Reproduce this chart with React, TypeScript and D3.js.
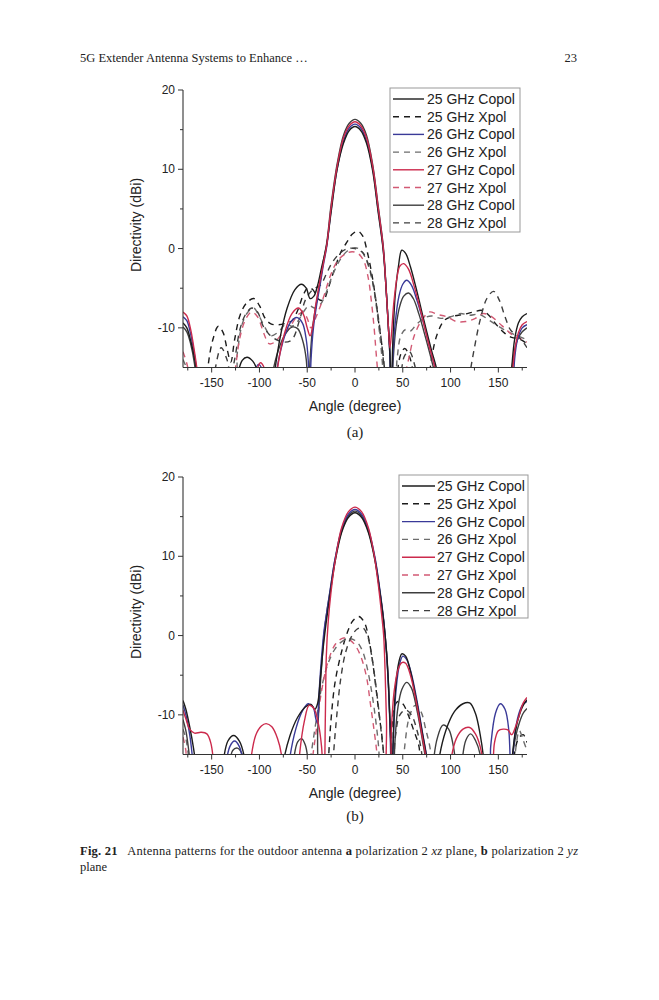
import React from 'react';
import * as d3 from 'd3';

type Pt = [number, number];

const seriesNames = ['25 GHz Copol', '25 GHz Xpol', '26 GHz Copol', '26 GHz Xpol', '27 GHz Copol', '27 GHz Xpol', '28 GHz Copol', '28 GHz Xpol'];
const xTickValues = [-150, -100, -50, 0, 50, 100, 150];
const xMinorValues = [-175, -125, -75, -25, 25, 75, 125, 175];
const yTickValues = [-10, 0, 10, 20];
const yMinorValues = [-5, 5, 15];

// ---------- panel (a): polarization 2, xz plane ----------
const aCopol25: Pt[] = [[-180,-9.4],[-176,-10],[-172,-11.6],[-168,-13.8],[-164,-17],[-160,-22],[-128,-22],[-123,-16],[-118,-14.1],[-113,-13.7],[-107,-14.2],[-102,-15.5],[-98,-19],[-88,-20],[-84,-15.5],[-78,-11],[-71,-7.5],[-63,-5.2],[-56,-4.5],[-51,-5],[-47,-6.3],[-43,-6],[-39,-4.6],[-35,-2.4],[-30,0.2],[-25,4.6],[-19,9.8],[-12,13.3],[-6,14.9],[0,15.4],[6,14.9],[12,13.3],[18.5,9.8],[24,4.8],[29.5,-0.2],[32.5,-5],[35,-10],[36.5,-13],[38,-18],[39.5,-12],[42,-6],[45.5,-2.2],[49,-0.2],[53,-0.6],[58,-2.3],[65,-5.5],[72,-9],[80,-12.8],[86,-15.5],[90,-20],[160,-20],[164,-15],[167,-11.5],[171,-9.4],[175,-8.6],[180,-8.2]];
const aXpol25: Pt[] = [[-180,-20],[-158,-20],[-154,-15],[-149,-11.6],[-143,-9.8],[-138,-10.6],[-134,-12.6],[-130,-14.3],[-126,-11.5],[-120,-8.3],[-113,-6.8],[-106,-6.3],[-100,-7.2],[-94,-8.8],[-88,-9.5],[-80,-9.6],[-72,-9.4],[-66,-9.1],[-60,-7.8],[-54,-5.8],[-49,-4.9],[-44,-5.2],[-38,-6.4],[-33,-6.5],[-28,-5],[-22,-2.8],[-15,-0.5],[-8,0.9],[-3,1.8],[3,2.2],[8,1.6],[13,-0.5],[17,-2.8],[21,-5.8],[25,-9.5],[29,-13],[32,-17],[34,-22],[40,-22],[44,-16],[48,-13.3],[52,-12.6],[57,-13.6],[62,-16.5],[68,-22],[74,-20],[80,-14],[86,-10.8],[94,-9],[104,-8.5],[114,-8.3],[124,-8],[133,-7.8],[140,-8.4],[148,-9.6],[156,-10.6],[164,-11.2],[172,-11.4],[180,-12]];
const aCopol26: Pt[] = [[-180,-8.6],[-176,-9.1],[-172,-10.8],[-168,-13.4],[-164,-17],[-160,-22],[-112,-22],[-106,-16],[-101,-14.6],[-96,-15.6],[-92,-20],[-86,-20],[-82,-15.5],[-76,-12],[-68,-9.4],[-61,-8.7],[-55,-9.4],[-51,-11.5],[-49,-14],[-47.5,-20],[-46,-14],[-43.5,-10],[-40,-7],[-36,-4.2],[-33,-2],[-29.5,0.3],[-25,4.9],[-18.5,10.2],[-12,13.6],[-6,15.2],[0,15.7],[6,15.2],[12,13.6],[18.5,10.1],[24,5.1],[29.5,0],[32.5,-5],[35,-10],[36.5,-13.5],[38,-20],[39.5,-14],[42,-9.5],[46,-6],[50,-4.5],[54,-4],[59,-4.6],[65,-6.6],[72,-9.5],[80,-13.3],[86,-16],[90,-20],[158,-22],[165,-18],[167,-14],[170,-11.5],[175,-10],[180,-9.6]];
const aXpol26: Pt[] = [[-180,-14],[-175,-15.5],[-170,-18],[-128,-18],[-123,-13],[-118,-9.5],[-112,-8],[-106,-7.5],[-100,-8.6],[-94,-10],[-88,-11],[-80,-10.5],[-72,-9.5],[-66,-9.8],[-60,-9.2],[-54,-8],[-48,-7.2],[-42,-7.5],[-36,-7],[-30,-5.5],[-24,-3.5],[-16,-1.5],[-8,-0.3],[0,0.1],[6,-0.2],[12,-1.5],[18,-4],[22,-7],[26,-11],[29,-15],[31,-20],[40,-20],[44,-14],[48,-11],[53,-10.2],[58,-10.4],[64,-9.6],[72,-8.8],[80,-8.5],[90,-8.8],[100,-8.6],[110,-8.2],[120,-8.4],[130,-8.3],[140,-9],[150,-9.8],[160,-10.5],[170,-11],[180,-11.5]];
const aCopol27: Pt[] = [[-180,-8],[-176,-8.5],[-172,-10.2],[-168,-13],[-164,-16.5],[-160,-22],[-110,-22],[-104,-16],[-99,-14.4],[-94,-15.4],[-90,-20],[-85,-20],[-81,-15],[-74,-10.8],[-66,-8.2],[-59,-7.5],[-54,-8.3],[-50,-10],[-47,-11],[-44.5,-10],[-41,-7],[-37,-4.3],[-33,-1.8],[-29.5,0.5],[-25,5.2],[-18.5,10.5],[-12,14],[-6,15.5],[0,16],[6,15.5],[12,14],[18.5,10.4],[24,5.4],[29.5,0.2],[32.5,-5],[35,-10],[36.5,-12.5],[38,-11],[40.5,-7],[44,-3.6],[47,-2.2],[51,-1.9],[56,-2.6],[62,-4.8],[69,-8],[77,-12],[84,-15.3],[88,-20],[160,-22],[164,-17],[167,-13],[171,-10.6],[175,-9.6],[180,-9.2]];
const aXpol27: Pt[] = [[-180,-13],[-176,-14.5],[-172,-17],[-168,-20],[-130,-20],[-125,-15],[-120,-11],[-114,-8.8],[-108,-8],[-102,-8.6],[-96,-10.5],[-90,-12],[-84,-11.8],[-78,-11],[-72,-10.5],[-66,-9.5],[-60,-8.4],[-54,-8],[-50,-8.8],[-46,-10],[-42,-9],[-37,-7.5],[-32,-5.8],[-26,-3.5],[-18,-1.5],[-9,-0.6],[-3,-0.4],[3,-0.6],[9,-1.5],[14,-3.8],[17,-6.5],[20,-10],[22,-13],[24,-16],[26,-20],[42,-20],[50,-17],[56,-14],[62,-11],[70,-9],[78,-8],[86,-8.3],[96,-8.6],[106,-9.2],[116,-9.2],[126,-8.8],[134,-8.2],[142,-8.5],[150,-9.3],[158,-10.2],[166,-11],[172,-11.3],[180,-11.8]];
const aCopol28: Pt[] = [[-180,-9.9],[-176,-10.5],[-172,-12],[-168,-14.5],[-165,-18],[-160,-22],[-92,-22],[-88,-17],[-82,-13.5],[-74,-11],[-66,-9.9],[-60,-10.1],[-55,-11.5],[-51,-14],[-49,-20],[-47,-14],[-44,-9.6],[-40,-6.6],[-36,-3.8],[-33,-1.5],[-29.5,0.8],[-25,5.5],[-18.5,10.8],[-12,14.3],[-6,15.8],[0,16.3],[6,15.8],[12,14.3],[18.5,10.6],[24,5.6],[29.5,0.4],[32.5,-4.8],[35,-10],[36.5,-13.5],[38,-20],[40,-14],[43,-9.8],[47,-7.2],[51,-6],[56,-5.6],[61,-6.3],[67,-8.3],[74,-11.3],[81,-14.5],[85,-16.5],[89,-20],[158,-22],[163,-17],[166,-13.5],[170,-11.5],[175,-10.5],[180,-10]];
const aXpol28: Pt[] = [[-180,-15.5],[-175,-18],[-150,-20],[-146,-15],[-140,-12.5],[-134,-14],[-130,-16],[-126,-14],[-120,-10],[-114,-8.2],[-108,-7.5],[-102,-8],[-96,-9.8],[-90,-10.8],[-82,-11.5],[-74,-11.8],[-66,-11.5],[-58,-9],[-52,-6.5],[-46,-5.4],[-42,-5],[-36,-4.6],[-30,-3.2],[-24,-1.8],[-16,-0.6],[-8,0],[0,0],[8,-0.5],[14,-2],[19,-4.5],[23,-7.5],[27,-11],[30,-14.5],[33,-20],[44,-20],[48,-16],[52,-13.5],[57,-13],[62,-14.5],[66,-17],[70,-20],[116,-20],[120,-16],[125,-12.5],[131,-9],[138,-6.3],[145,-5.4],[151,-6.5],[157,-8.6],[163,-10.3],[170,-11],[176,-11.8],[180,-12.5]];

// ---------- panel (b): polarization 2, yz plane ----------
const bCopol25: Pt[] = [[-180,-8.2],[-177,-9.3],[-173,-11.5],[-169,-14.2],[-166,-17],[-162,-22],[-142,-22],[-138,-16],[-133,-13.3],[-127,-12.6],[-121,-13.3],[-116,-15.2],[-112,-20],[-80,-22],[-75,-16],[-68,-12.6],[-60,-10.3],[-52,-9],[-46,-8.7],[-42,-9.3],[-39,-8.5],[-36,-5],[-33,-1.2],[-30,1.8],[-26,5.3],[-21,9.2],[-14,13],[-7,14.9],[0,15.5],[7,14.9],[14,13],[21,9.4],[26,5.5],[30,1.8],[33,-2],[35,-6],[36.5,-10.5],[37.5,-14],[38.5,-20],[40,-13],[42.5,-6.5],[46,-3.3],[49,-2.3],[53,-2.6],[58,-4.5],[64,-8],[70,-12],[75,-15.5],[78,-20],[84,-20],[88,-15.5],[95,-12],[104,-9.6],[113,-8.6],[120,-8.5],[126,-9.8],[131,-12.5],[135,-16],[138,-22],[160,-22],[164,-16],[168,-12],[172,-10],[176,-8.8],[180,-8.1]];
const bXpol25: Pt[] = [[-180,-20],[-30,-20],[-27.5,-15],[-25,-10.5],[-21,-6],[-15,-2.5],[-8,0.4],[-2,1.9],[4,2.4],[10,1.6],[15,-0.8],[19,-3.8],[22.5,-7.2],[25.5,-10.2],[28,-12.5],[30,-15],[32,-20],[36,-20],[38.5,-12],[41,-9],[45,-8.3],[50,-8.6],[55,-9.8],[61,-11.8],[67,-14],[72,-20],[160,-20],[166,-15.5],[171,-13],[176,-12.5],[180,-13.5]];
const bCopol26: Pt[] = [[-180,-8.8],[-177,-10],[-173,-12.5],[-170,-15.5],[-167,-20],[-140,-22],[-136,-17],[-131,-14],[-126,-13.3],[-121,-14],[-117,-16],[-113,-20],[-74,-22],[-69,-16],[-62,-11.8],[-55,-9.5],[-49,-8.6],[-44,-9],[-41,-10.5],[-39.5,-11],[-38,-8],[-35.5,-3.5],[-32.5,0.5],[-29.5,3],[-26,5.8],[-21,9.6],[-14,13.4],[-7,15.3],[0,15.9],[7,15.3],[14,13.4],[21,9.8],[26,5.8],[30,2],[33,-2.2],[35,-6.5],[36.5,-11],[37.5,-16],[38.5,-20],[40.5,-12],[43,-6.8],[46.5,-3.7],[50,-2.6],[54,-3],[59,-4.8],[65,-8.3],[71,-12.5],[76,-16],[79,-20],[138,-22],[142,-14],[147,-9.8],[152,-8.6],[157,-9.3],[161,-12],[163.5,-20],[166,-14],[170,-10.5],[175,-8.8],[180,-8.3]];
const bXpol26: Pt[] = [[-180,-11.8],[-177,-13],[-174,-15.5],[-171,-20],[-52,-20],[-46,-15],[-41,-11],[-36,-7.2],[-29,-3.8],[-21,-1.7],[-13,-0.7],[-5,-0.4],[2,-0.8],[8,-2],[13,-4.2],[18,-7.5],[22,-11],[25,-14.5],[27,-20],[48,-20],[52,-14],[57,-10.2],[63,-8.8],[69,-9.6],[74,-11.8],[79,-14.5],[83,-20],[164,-20],[168,-14.5],[172,-12],[176,-13.2],[180,-14.5]];
const bCopol27: Pt[] = [[-180,-9.4],[-177,-10.5],[-173,-11.8],[-168,-12.3],[-161,-12.2],[-155,-12.4],[-151,-13.5],[-148,-16],[-145,-22],[-114,-22],[-110,-16.5],[-104,-12.6],[-98,-11.4],[-93,-11.1],[-87,-11.5],[-81,-13],[-77,-15],[-73,-22],[-62,-22],[-58,-15],[-53,-10.8],[-48,-8.8],[-43,-9.2],[-38.5,-11],[-35,-14],[-32.5,-20],[-31,-10],[-30,-2.5],[-28,1.8],[-25,5.6],[-20,10],[-14,13.6],[-7,15.6],[0,16.2],[7,15.6],[14,13.6],[20,10.2],[25,5.8],[28,2.5],[30,0],[31.5,-4.5],[33,-11],[34,-20],[36,-20],[38,-12],[41,-7],[45,-4.3],[49,-3.4],[53,-3.5],[58,-5],[64,-8.3],[70,-12.5],[75,-16],[78,-20],[96,-22],[100,-16],[106,-13],[113,-11.8],[120,-11.6],[126,-12.4],[131,-14],[135,-17],[138,-22],[143,-20],[146,-13.5],[150,-12],[155,-11.8],[160,-11.9],[164,-12.5],[168,-11.5],[172,-10],[176,-8.5],[180,-7.8]];
const bXpol27: Pt[] = [[-180,-12.8],[-177,-14.5],[-174,-20],[-50,-20],[-44,-15],[-40,-11.5],[-35,-7],[-28,-3.2],[-20,-1],[-12,-0.3],[-6,-0.5],[0,-1.2],[6,-2.6],[12,-5.2],[16,-8.5],[20,-12],[23,-15],[25,-20]];
const bCopol28: Pt[] = [[-180,-10.6],[-177,-12],[-174,-14.5],[-171,-18],[-168,-22],[-136,-22],[-132,-17],[-128,-14.5],[-123,-14.2],[-118,-15],[-114,-18],[-110,-22],[-68,-22],[-64,-15.5],[-60,-13.4],[-56,-13],[-52,-13.8],[-49,-16],[-47,-22],[-42,-22],[-39,-12],[-37,-7.5],[-35,-4],[-32.5,0],[-29.5,3],[-26,5.6],[-21,9.5],[-14,13.2],[-7,15.1],[0,15.7],[7,15.1],[14,13.2],[21,9.6],[26,5.6],[30,1.8],[33,-2.2],[35,-6.2],[36.5,-10.5],[38,-15],[39.5,-20],[42,-13],[45,-9],[49,-6.8],[54,-5.9],[59,-6.6],[65,-9.5],[71,-13.5],[75,-16.5],[79,-22],[82,-16],[86,-13],[92,-11.3],[98,-11.8],[103,-14],[106,-17],[109,-22],[112,-16],[116,-13.2],[121,-12.4],[126,-13.2],[131,-15],[135,-20],[160,-22],[164,-16],[168,-12.8],[172,-11],[176,-9.8],[180,-9.2]];
const bXpol28: Pt[] = [[-25,-20],[-22.5,-15],[-19,-10],[-15,-5.5],[-10,-2.2],[-4,-0.2],[2,0.8],[8,1],[13,0],[17,-2.2],[21,-5.5],[25,-9.5],[28,-12.8],[30,-15],[32,-20],[38,-20],[42,-13],[47,-10],[53,-9.4],[59,-10],[65,-12],[70,-15],[73,-20]];

const panelA: Pt[][] = [aCopol25, aXpol25, aCopol26, aXpol26, aCopol27, aXpol27, aCopol28, aXpol28];
const panelB: Pt[][] = [bCopol25, bXpol25, bCopol26, bXpol26, bCopol27, bXpol27, bCopol28, bXpol28];

// styles
const seriesColors = ['#1c1c1c', '#1c1c1c', '#3a3a98', '#6c6c6c', '#cc2a4c', '#d25a74', '#3e3e3e', '#3e3e3e'];
const seriesDashed = [false, true, false, true, false, true, false, true];
const drawOrder = [1, 3, 5, 7, 6, 2, 0, 4];

const SANS = '"Liberation Sans", Arial, sans-serif';
const SERIF = '"Liberation Serif", "Times New Roman", serif';

interface PanelProps {
  id: string;
  series: Pt[][];
  top: number;
  bottom: number;
  legend: { x: number; y: number; w: number; h: number; row0: number; step: number; lx0: number; lx1: number; tx: number };
  label: string;
  yTitleCenter: number;
}

function Panel({ id, series, top, bottom, legend, label, yTitleCenter }: PanelProps) {
  const x = d3.scaleLinear().domain([-180, 180]).range([183, 527]);
  const y = d3.scaleLinear().domain([-15, 20]).range([bottom, top]);
  const line = d3.line<Pt>().x(d => x(d[0])).y(d => y(d[1])).curve(d3.curveCatmullRom.alpha(0.5));
  const axisColor = '#333';
  return (
    <g>
      <defs>
        <clipPath id={id}>
          <rect x={x(-180)} y={top - 5} width={x(180) - x(-180)} height={bottom - top + 5} />
        </clipPath>
      </defs>
      <g clipPath={`url(#${id})`}>
        {drawOrder.map(i => (
          <path key={i} d={line(series[i]) || ''} fill="none" stroke={seriesColors[i]}
            strokeWidth={1.4} strokeDasharray={seriesDashed[i] ? '6,5' : undefined} />
        ))}
      </g>
      {/* axes */}
      <line x1={x(-180)} x2={x(180)} y1={bottom} y2={bottom} stroke={axisColor} strokeWidth={1.1} />
      <line x1={x(-180)} x2={x(-180)} y1={y(20)} y2={bottom} stroke={axisColor} strokeWidth={1.1} />
      {xTickValues.map(v => (
        <g key={v}>
          <line x1={x(v)} x2={x(v)} y1={bottom} y2={bottom + 5} stroke={axisColor} />
          <text x={x(v)} y={bottom + 19} textAnchor="middle" fontFamily={SANS} fontSize={12} fill="#222">{v}</text>
        </g>
      ))}
      {xMinorValues.map(v => (
        <line key={v} x1={x(v)} x2={x(v)} y1={bottom} y2={bottom + 3} stroke={axisColor} />
      ))}
      {yTickValues.map(v => (
        <g key={v}>
          <line x1={x(-180) - 5} x2={x(-180)} y1={y(v)} y2={y(v)} stroke={axisColor} />
          <text x={x(-180) - 8} y={y(v) + 4} textAnchor="end" fontFamily={SANS} fontSize={12} fill="#222">{v}</text>
        </g>
      ))}
      {yMinorValues.map(v => (
        <line key={v} x1={x(-180) - 3} x2={x(-180)} y1={y(v)} y2={y(v)} stroke={axisColor} />
      ))}
      <text x={x(0)} y={bottom + 43} textAnchor="middle" fontFamily={SANS} fontSize={14} fill="#222">Angle (degree)</text>
      <text transform={`translate(141,${yTitleCenter}) rotate(-90)`} textAnchor="middle" fontFamily={SANS} fontSize={14} fill="#222">Directivity (dBi)</text>
      <text x={x(0)} y={bottom + (label === '(a)' ? 69 : 66)} textAnchor="middle" fontFamily={SERIF} fontSize={15} fill="#222">{label}</text>
      {/* legend */}
      <rect x={legend.x} y={legend.y} width={legend.w} height={legend.h} fill="#fff" stroke="#999" strokeWidth={1} />
      {seriesNames.map((name, i) => {
        const ry = legend.row0 + i * legend.step;
        return (
          <g key={name}>
            <line x1={legend.lx0} x2={legend.lx1} y1={ry} y2={ry} stroke={seriesColors[i]} strokeWidth={1.4}
              strokeDasharray={seriesDashed[i] ? '6,5' : undefined} />
            <text x={legend.tx} y={ry + 5} fontFamily={SANS} fontSize={14} fill="#222">{name}</text>
          </g>
        );
      })}
    </g>
  );
}

export default function App() {
  return (
    <svg width={659} height={1000} viewBox="0 0 659 1000" style={{ position: 'absolute', left: 0, top: 0, background: '#fff' }}>
      <rect x={0} y={0} width={659} height={1000} fill="#fff" />
      <text x={80} y={62} fontFamily={SERIF} fontSize={12.5} fill="#222">5G Extender Antenna Systems to Enhance …</text>
      <text x={577} y={62} textAnchor="end" fontFamily={SERIF} fontSize={12.5} fill="#222">23</text>
      <Panel id="clipA" series={panelA} top={90} bottom={367.5}
        legend={{ x: 390, y: 88, w: 130, h: 144, row0: 99, step: 17.7, lx0: 393, lx1: 424, tx: 427 }}
        label="(a)" yTitleCenter={225} />
      <Panel id="clipB" series={panelB} top={477} bottom={754.5}
        legend={{ x: 399, y: 475, w: 129, h: 143, row0: 486, step: 17.8, lx0: 402, lx1: 435, tx: 437 }}
        label="(b)" yTitleCenter={612} />
      <text x={80} y={855} fontFamily={SERIF} fontSize={12.5} fill="#222" textLength={498} lengthAdjust="spacing">
        <tspan fontWeight="bold">Fig. 21</tspan>
        <tspan>{'\u00a0\u00a0 Antenna patterns for the outdoor antenna '}</tspan>
        <tspan fontWeight="bold">a</tspan>
        <tspan>{' polarization 2 '}</tspan>
        <tspan fontStyle="italic">xz</tspan>
        <tspan>{' plane, '}</tspan>
        <tspan fontWeight="bold">b</tspan>
        <tspan>{' polarization 2 '}</tspan>
        <tspan fontStyle="italic">yz</tspan>
      </text>
      <text x={80} y={871} fontFamily={SERIF} fontSize={12.5} fill="#222">plane</text>
    </svg>
  );
}
